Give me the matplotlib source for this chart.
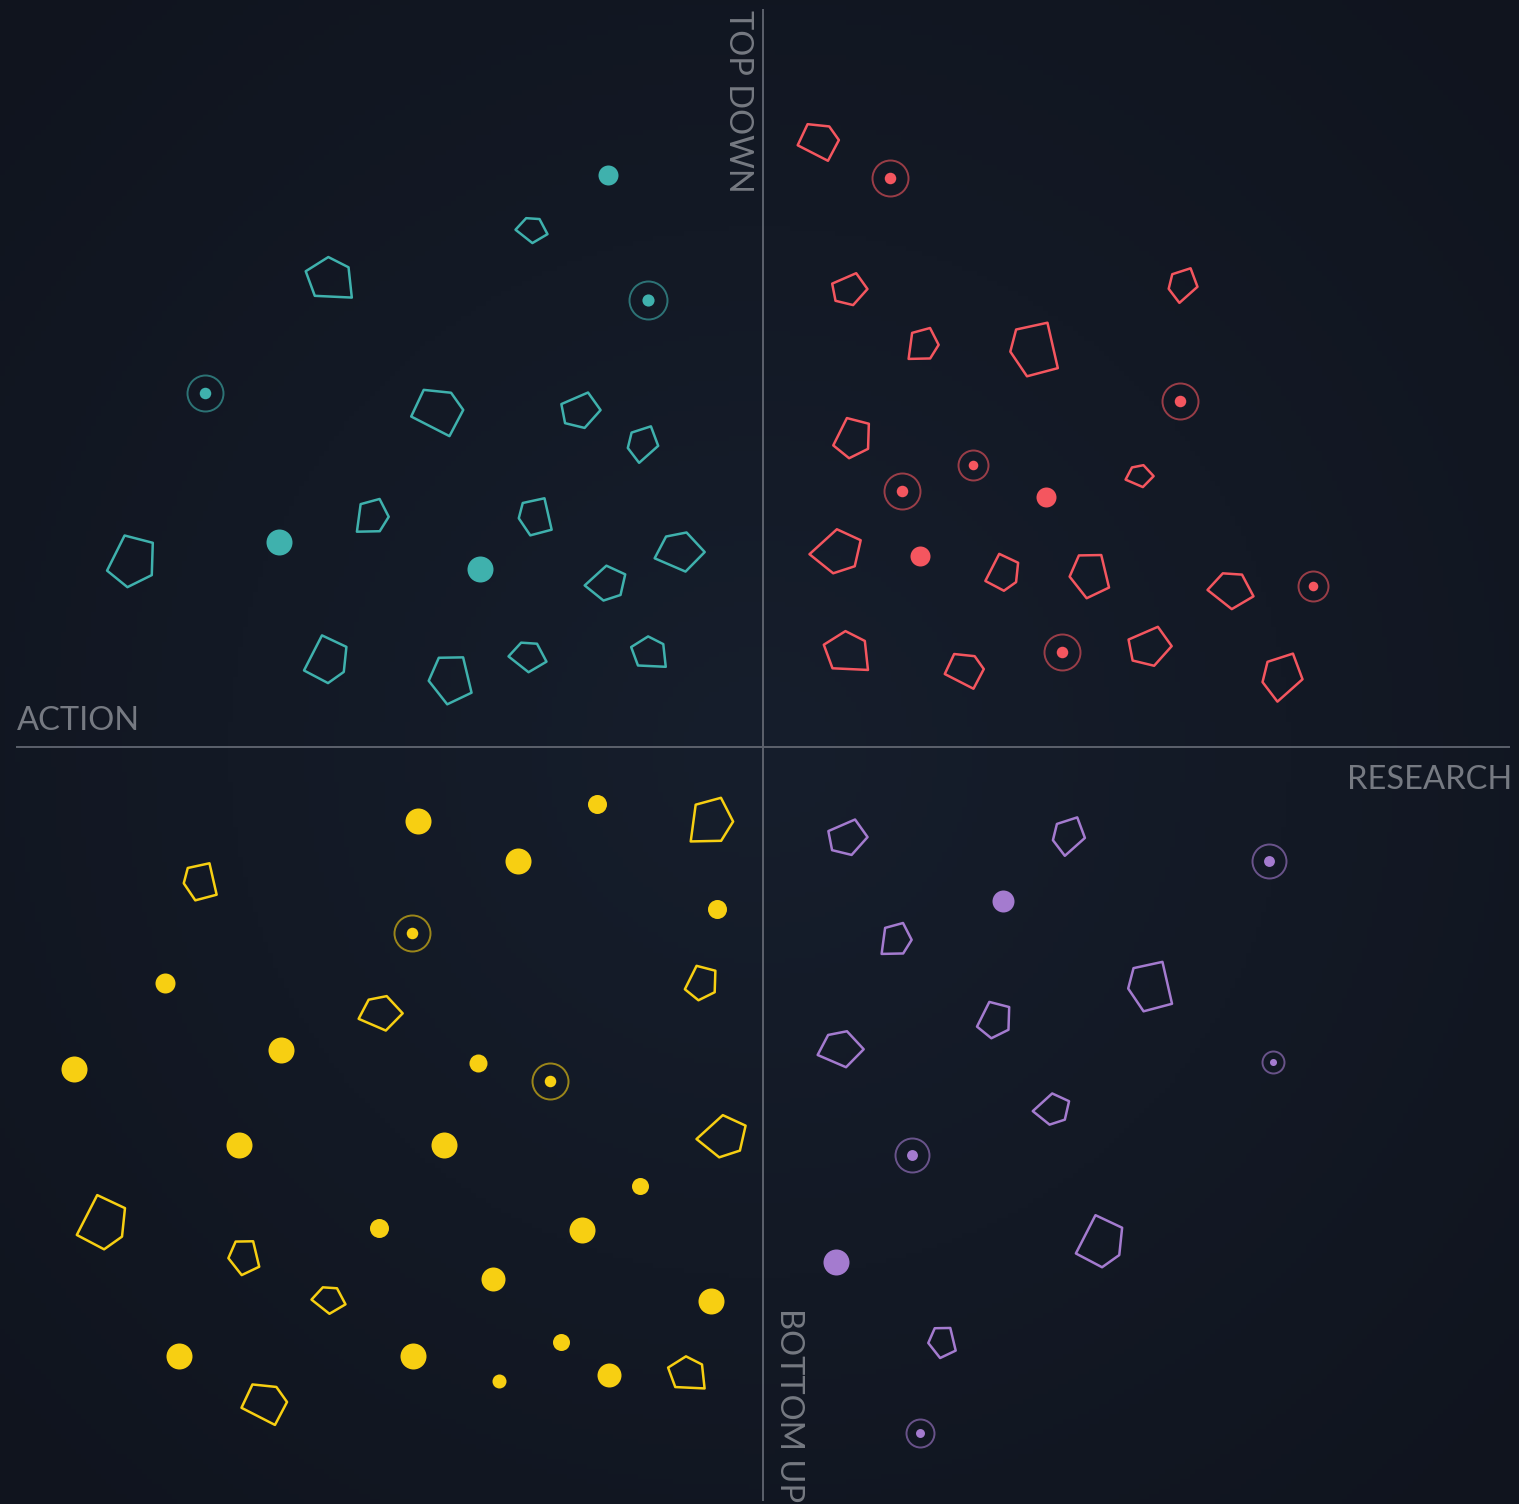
import numpy as np
import matplotlib.pyplot as plt
from matplotlib.markers import MarkerStyle
from matplotlib.path import Path
from matplotlib.transforms import Affine2D

# quadrant items, in picture pixel units (x right, y down)
# kind: p = pentagon outline, d = filled dot, r = ringed dot ; size = width in px
teal_x = [608, 531, 331, 648, 205, 437, 579, 644, 369, 535, 279, 130, 480, 679, 604, 327, 452, 527, 650]
teal_y = [175, 231, 282, 300, 393, 410, 409, 444, 517, 517, 542, 560, 569, 554, 582, 659, 678, 658, 655]
teal_kind = ['d', 'p', 'p', 'r', 'r', 'p', 'p', 'p', 'p', 'p', 'd', 'p', 'd', 'p', 'p', 'p', 'p', 'p', 'p']
teal_size = [20, 32, 48, 38, 36, 48, 40, 38, 36, 36, 26, 54, 26, 50, 38, 44, 50, 38, 36]

red_x = [818, 890, 848, 1184, 920, 1034, 1180, 851, 973, 902, 1046, 1139, 834, 920, 1003, 1091, 1230, 1313, 848, 964, 1062, 1148, 1284]
red_y = [140, 178, 288, 285, 345, 350, 401, 437, 465, 491, 497, 477, 550, 556, 572, 574, 592, 586, 655, 669, 652, 645, 677]
red_kind = ['p', 'r', 'p', 'p', 'p', 'p', 'r', 'p', 'r', 'r', 'd', 'p', 'p', 'd', 'p', 'p', 'p', 'r', 'p', 'p', 'r', 'p', 'p']
red_size = [38, 36, 36, 36, 34, 52, 36, 42, 30, 36, 20, 28, 48, 20, 34, 46, 46, 30, 46, 36, 36, 44, 50]

yellow_x = [597, 418, 707, 518, 200, 717, 412, 165, 700, 380, 281, 74, 478, 550, 720, 239, 444, 640,
            103, 379, 582, 245, 493, 328, 711, 179, 413, 561, 609, 499, 688, 264]
yellow_y = [804, 821, 822, 861, 882, 909, 933, 983, 982, 1015, 1050, 1069, 1063, 1081, 1135, 1145, 1145, 1186,
            1222, 1228, 1230, 1256, 1279, 1301, 1301, 1356, 1356, 1342, 1375, 1381, 1376, 1402]
yellow_kind = ['d', 'd', 'p', 'd', 'p', 'd', 'r', 'd', 'p', 'p', 'd', 'd', 'd', 'r', 'p', 'd', 'd', 'd',
               'p', 'd', 'd', 'p', 'd', 'p', 'd', 'd', 'd', 'd', 'd', 'd', 'p', 'p']
yellow_size = [19, 26, 48, 26, 36, 19, 36, 20, 36, 44, 26, 26, 18, 36, 46, 26, 26, 17,
               50, 19, 26, 36, 24, 34, 26, 26, 26, 17, 24, 14, 38, 42]

purple_x = [846, 1070, 1269, 1003, 893, 1150, 993, 840, 1273, 1050, 912, 1101, 836, 943, 920]
purple_y = [836, 836, 861, 901, 940, 987, 1019, 1051, 1062, 1108, 1155, 1241, 1262, 1341, 1433]
purple_kind = ['p', 'p', 'r', 'd', 'p', 'p', 'p', 'p', 'r', 'p', 'r', 'p', 'd', 'p', 'r']
purple_size = [40, 40, 34, 22, 34, 48, 38, 46, 22, 34, 34, 48, 26, 32, 28]

groups = [
    (teal_x, teal_y, teal_kind, teal_size, '#3fb1ad'),
    (red_x, red_y, red_kind, red_size, '#f4565f'),
    (yellow_x, yellow_y, yellow_kind, yellow_size, '#f7cf12'),
    (purple_x, purple_y, purple_kind, purple_size, '#a47bcf'),
]

# a few lopsided pentagon outlines, reused with different turns
shapes = [
    [(-0.9, 0.1), (-0.3, 0.75), (0.45, 0.7), (0.9, -0.15), (0.05, -0.65)],
    [(-0.55, 0.9), (0.45, 0.85), (0.85, 0.1), (0.3, -0.9), (-0.8, -0.05)],
    [(-0.75, 0.55), (0.25, 0.8), (0.9, 0.35), (0.75, -0.75), (-0.85, -0.55)],
    [(-0.9, -0.3), (-0.5, 0.7), (0.4, 0.8), (0.85, 0.05), (-0.1, -0.85)],
]
turns = [0, 35, -20, 160, 80, -60, 110, 200, 15, -100, 250, 60]


def pentagon(i):
    verts = shapes[i % len(shapes)]
    path = Path(verts + [verts[0]], closed=True)
    return MarkerStyle(path, transform=Affine2D().rotate_deg(turns[i % len(turns)]))


W, H = 1519, 1504
fig = plt.figure(figsize=(W / 100, H / 100), dpi=100)
ax = fig.add_axes([0, 0, 1, 1])
ax.set_xlim(0, W)
ax.set_ylim(H, 0)
ax.axis('off')

# dark backdrop, a touch lighter in the middle
gx, gy = np.meshgrid(np.linspace(-1, 1, 300), np.linspace(-1, 1, 300))
glow = np.clip(1 - np.hypot(gx, gy) / 1.4, 0, 1)
base = np.array([0x10, 0x14, 0x1e]) / 255
mid = np.array([0x16, 0x1e, 0x2c]) / 255
img = base + (mid - base) * glow[..., None]
ax.imshow(img, extent=[0, W, H, 0], aspect='auto', zorder=0)

ax.plot([763, 763], [10, 1500], color='#5c616c', lw=1.4, zorder=1)
ax.plot([17, 1509], [747, 747], color='#5c616c', lw=1.4, zorder=1)

lab = dict(color='#767a82', fontsize=23.5, family=['Lato', 'DejaVu Sans'], zorder=2)
ax.text(738, 10, 'TOP DOWN', rotation=-90, ha='center', va='top', **lab)
ax.text(789, 1502, 'BOTTOM UP', rotation=-90, ha='center', va='bottom', **lab)
ax.text(17, 721, 'ACTION', ha='left', va='center', **lab)
ax.text(1512, 780, 'RESEARCH', ha='right', va='center', **lab)

k = 0
for xs, ys, kinds, sizes, col in groups:
    for x, y, kind, s in zip(xs, ys, kinds, sizes):
        ms = s * 0.72
        if kind == 'p':
            ax.plot(x, y, marker=pentagon(k), ms=ms, mfc='none', mec=col, mew=1.8, zorder=3)
            k += 1
        elif kind == 'd':
            ax.plot(x, y, marker='o', ms=ms, mfc=col, mec='none', zorder=3)
        else:
            ax.plot(x, y, marker='o', ms=ms, mfc='none', mec=col, mew=1.4, alpha=0.6, zorder=3)
            ax.plot(x, y, marker='o', ms=ms * 0.32, mfc=col, mec='none', zorder=3)

fig.savefig('out.png', dpi=100)
